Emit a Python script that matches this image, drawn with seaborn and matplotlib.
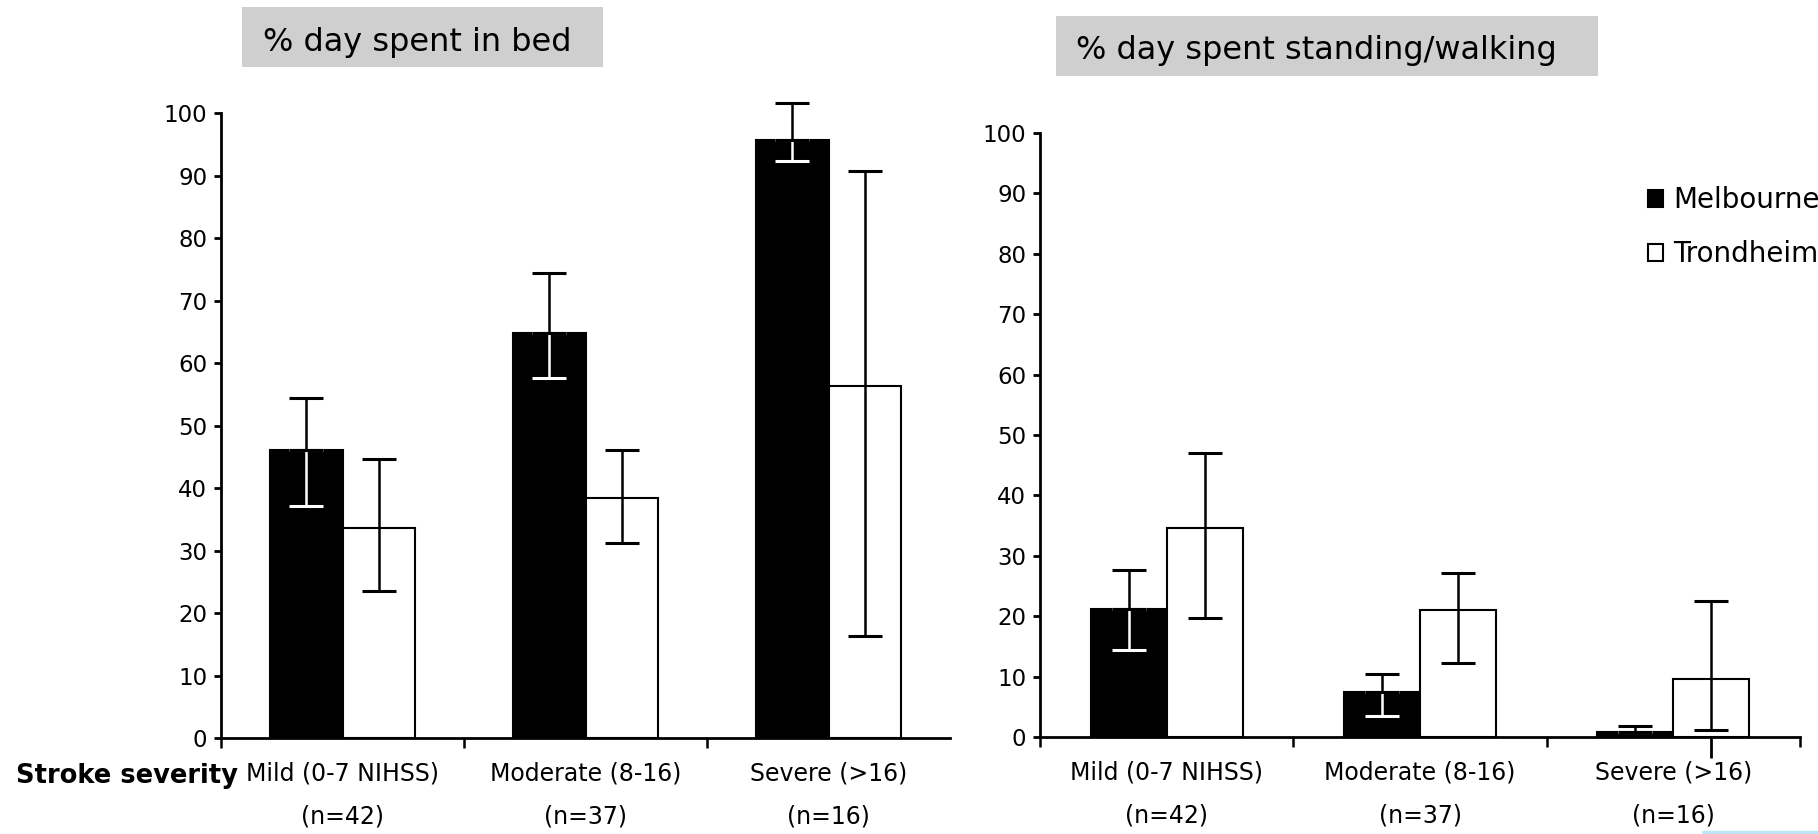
import matplotlib
matplotlib.use("Agg")
import matplotlib.pyplot as plt
from matplotlib.patches import Rectangle, Patch
from matplotlib.lines import Line2D
from matplotlib.ticker import FixedLocator
import numpy as np
import pandas as pd
import seaborn as sns

# categories / labels
severity = ["Mild (0-7 NIHSS)", "Moderate (8-16)", "Severe (>16)"]
n_sizes = ["(n=42)", "(n=37)", "(n=16)"]
cities = ["Melbourne", "Trondheim"]
city_colors = {"Melbourne": "black", "Trondheim": "white"}

# % day spent in bed (mean, lower, upper error)
bed_melbourne = [46.2, 64.8, 95.7]
bed_melbourne_low = [37.2, 57.6, 92.3]
bed_melbourne_high = [54.4, 74.4, 101.7]
bed_trondheim = [33.6, 38.4, 56.4]
bed_trondheim_low = [23.6, 31.3, 16.3]
bed_trondheim_high = [44.7, 46.1, 90.7]

# % day spent standing/walking
stand_melbourne = [21.2, 7.5, 0.8]
stand_melbourne_low = [14.5, 3.5, 0.8]
stand_melbourne_high = [27.7, 10.5, 1.9]
stand_trondheim = [34.6, 21.0, 9.6]
stand_trondheim_low = [19.7, 12.2, 1.2]
stand_trondheim_high = [47.0, 27.1, 22.5]

sns.set_style("white")
plt.rcParams["font.family"] = ["DejaVu Sans"]
plt.rcParams["text.color"] = "black"
plt.rcParams["xtick.color"] = "black"
plt.rcParams["ytick.color"] = "black"


def long_table(melb, trond):
    return pd.DataFrame({
        "severity": severity * 2,
        "city": [cities[0]] * 3 + [cities[1]] * 3,
        "value": melb + trond,
    })


def draw_panel(ax, df, lows, highs, boundaries):
    sns.barplot(data=df, x="severity", y="value", hue="city", hue_order=cities,
                order=severity, palette=city_colors, edgecolor="black",
                linewidth=1.5, width=0.6, gap=0, errorbar=None, legend=False,
                ax=ax)
    bar_pos = {}
    for container, city in zip(ax.containers, cities):
        xs = np.array([b.get_x() + b.get_width() / 2 for b in container])
        hs = np.array([b.get_height() for b in container])
        bar_pos[city] = xs
        lo = hs - np.array(lows[city])
        hi = np.array(highs[city]) - hs
        zeros = np.zeros(len(hs))
        if city_colors[city] == "black":
            # part of the whisker inside a black bar is drawn white
            parts = [([lo, zeros], "white"), ([zeros, hi], "black")]
        else:
            parts = [([lo, hi], "black")]
        for yerr, col in parts:
            eb = ax.errorbar(xs, hs, yerr=yerr, fmt="none", ecolor=col,
                             elinewidth=1.8, capsize=12, capthick=2.2, zorder=3)
            for art in list(eb.lines[1]) + list(eb.lines[2]):
                art.set_clip_on(False)

    ax.set_xlim(-0.5, 2.5)
    ax.set_ylim(0, 100)
    ax.set_yticks(range(0, 101, 10))
    ax.xaxis.set_minor_locator(FixedLocator(boundaries))
    ax.set_xlabel("")
    ax.set_ylabel("")
    ax.tick_params(axis="x", which="major", bottom=True, length=0, pad=17,
                   labelsize=17, labelcolor="black")
    ax.tick_params(axis="x", which="minor", bottom=True, length=7, width=1.8,
                   direction="out", color="black")
    ax.tick_params(axis="y", left=True, length=5, width=2, direction="out",
                   labelsize=16.5, pad=5, color="black", labelcolor="black")
    for side in ("top", "right"):
        ax.spines[side].set_visible(False)
    for side in ("left", "bottom"):
        ax.spines[side].set_linewidth(2)
        ax.spines[side].set_color("black")
    for i, n in enumerate(n_sizes):
        ax.annotate(n, xy=(i, 0), xycoords=("data", "axes fraction"),
                    xytext=(0, -56), textcoords="offset points",
                    ha="center", va="center", fontsize=17, color="black")
    return bar_pos


fig = plt.figure(figsize=(18.18, 8.34), dpi=100)
ax1 = fig.add_axes([0.1216, 0.1148, 0.4010, 0.7494])
ax2 = fig.add_axes([0.5721, 0.1160, 0.4180, 0.7249])

draw_panel(ax1, long_table(bed_melbourne, bed_trondheim),
           {"Melbourne": bed_melbourne_low, "Trondheim": bed_trondheim_low},
           {"Melbourne": bed_melbourne_high, "Trondheim": bed_trondheim_high},
           [-0.5, 0.5, 1.5])
pos2 = draw_panel(ax2, long_table(stand_melbourne, stand_trondheim),
                  {"Melbourne": stand_melbourne_low, "Trondheim": stand_trondheim_low},
                  {"Melbourne": stand_melbourne_high, "Trondheim": stand_trondheim_high},
                  [-0.5, 0.5, 1.5, 2.5])
# whisker of the severe Trondheim bar runs through the axis line
ax2.vlines(pos2["Trondheim"][2], -3.5, 0, color="black", lw=2, clip_on=False,
           zorder=4)

handles = [Patch(facecolor=city_colors[c], edgecolor="black", linewidth=1.5)
           for c in cities]
ax2.legend(handles, cities, loc="upper left", bbox_to_anchor=(0.9065, 0.777),
           bbox_transform=fig.transFigure, frameon=False, fontsize=20,
           handlelength=0.55, handleheight=0.55, handletextpad=0.35,
           labelspacing=0.95, borderpad=0, borderaxespad=0)

# grey title boxes
fig.add_artist(Rectangle((0.1331, 0.9197), 0.1986, 0.0719,
                         transform=fig.transFigure, facecolor="#cfcfcf",
                         edgecolor="none"))
fig.text(0.1447, 0.9496, "% day spent in bed", fontsize=23, va="center")
fig.add_artist(Rectangle((0.5809, 0.9089), 0.2981, 0.0719,
                         transform=fig.transFigure, facecolor="#cfcfcf",
                         edgecolor="none"))
fig.text(0.5919, 0.9389, "% day spent standing/walking", fontsize=23,
         va="center")

fig.text(0.0088, 0.0695, "Stroke severity", fontsize=18.5, fontweight="bold",
         va="center")

# thin slide border remnant bottom right
fig.add_artist(Line2D([0.937, 1.0], [0.002, 0.002], color="#bfe6f7", lw=2.5,
                      transform=fig.transFigure))

fig.savefig("out.png", dpi=100)
